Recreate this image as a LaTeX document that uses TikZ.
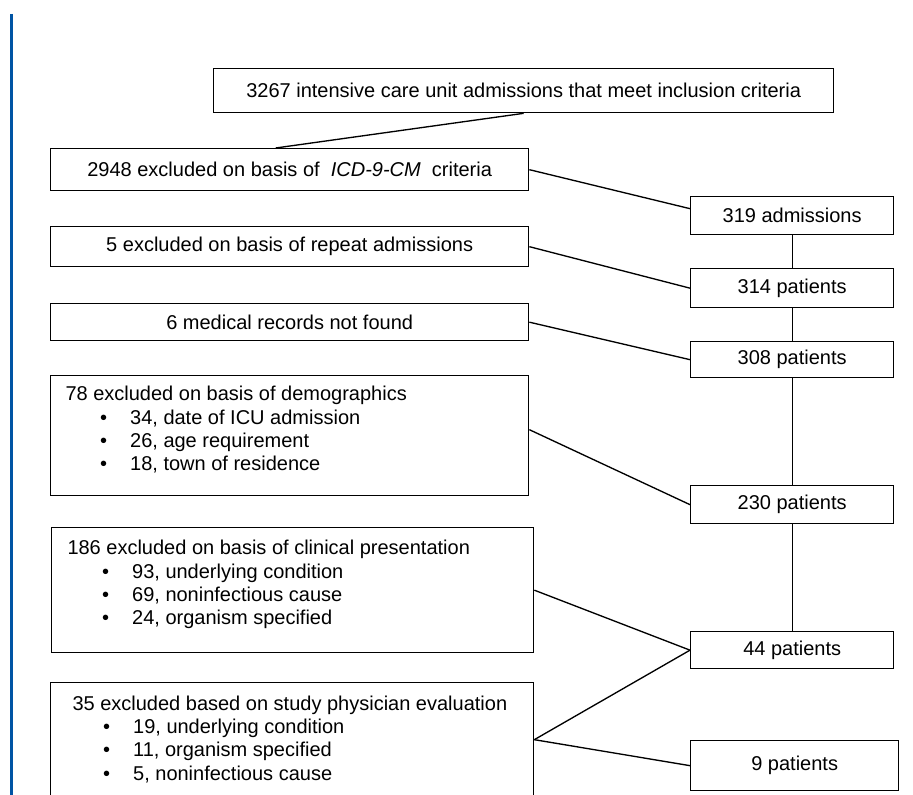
\documentclass[tikz,border=0pt]{standalone}
\usepackage{fontspec}
\setmainfont{Liberation Sans}
\usetikzlibrary{calc}

\tikzset{every picture/.style={line width=0.75pt}}
\tikzset{
  flowbox/.style={draw, line width=1pt, inner sep=0.75pt, anchor=north west, align=center, font=\fontsize{15}{17.5}\selectfont},
  listtext/.style={inner sep=0.75pt, anchor=north west, align=left, font=\fontsize{15}{17.5}\selectfont},
  link/.style={line width=1pt},
  sidebar/.style={line width=2.25pt, color=barblue}
}
\definecolor{barblue}{RGB}{0,84,164}
\newcommand{\bitem}[1]{\hspace*{26pt}\makebox[22.5pt][l]{\textbullet}#1}

\begin{document}
\begin{tikzpicture}[x=0.75pt,y=0.75pt,yscale=-1,xscale=1]
\useasboundingbox (0,0) rectangle (913,795);
\clip (0,0) rectangle (913,795);

%Straight Lines: side bar
\draw [sidebar] (11.5,14) -- (11.5,800);

% Shapes: left column
\node [flowbox, minimum width=465pt, minimum height=33pt] (icu) at (213,68) {3267 intensive care unit admissions that meet inclusion criteria};
\node [flowbox, minimum width=358.5pt, minimum height=31.5pt] (icd) at (50,148) {2948 excluded on basis of \ \textit{ICD-9-CM}\ \ criteria};
\node [flowbox, minimum width=358.5pt, minimum height=30pt] (repeat) at (50,226) {5 excluded on basis of repeat admissions};
\node [flowbox, minimum width=358.5pt, minimum height=27.75pt] (records) at (50,303) {6 medical records not found};
\node [flowbox, minimum width=358.5pt, minimum height=90pt] (demo) at (50,375) {};
\node [flowbox, minimum width=361.5pt, minimum height=93.75pt] (clin) at (51,527) {};
\node [flowbox, minimum width=362.25pt, minimum height=85.5pt] (phys) at (50,682) {};

% Text Node: lists
\node [listtext] (demotxt) at ($(demo.north west)+(14,10)$) {78 excluded on basis of demographics\\
\bitem{34, date of ICU admission}\\
\bitem{26, age requirement}\\
\bitem{18, town of residence}};
\node [listtext] (clintxt) at ($(clin.north west)+(15,12)$) {186 excluded on basis of clinical presentation\\
\bitem{93, underlying condition}\\
\bitem{69, noninfectious cause}\\
\bitem{24, organism specified}};
\node [listtext] (phystxt) at ($(phys.north west)+(21,12)$) {35 excluded based on study physician evaluation\\
\hspace*{-3pt}\bitem{19, underlying condition}\\
\hspace*{-3pt}\bitem{11, organism specified}\\
\hspace*{-3pt}\bitem{5, noninfectious cause}};

% Shapes: right column
\node [flowbox, minimum width=152.25pt, minimum height=28.5pt] (adm) at (690,196) {319 admissions};
\node [flowbox, minimum width=152.25pt, minimum height=29.25pt] (p314) at (690,268) {314 patients};
\node [flowbox, minimum width=152.25pt, minimum height=27pt] (p308) at (690,341) {308 patients};
\node [flowbox, minimum width=152.25pt, minimum height=28.5pt] (p230) at (690,485) {230 patients};
\node [flowbox, minimum width=152.25pt, minimum height=27.75pt] (p44) at (690,631) {44 patients};
\node [flowbox, minimum width=156pt, minimum height=37.5pt] (p9) at (690,740) {9 patients};

%Straight Lines
\draw [link] (icu.south) -- ($(icd.north)+(-14,0)$);
\draw [link] (icd.east) -- ($(adm.west)+(0,-7)$);
\draw [link] (repeat.east) -- (p314.west);
\draw [link] (records.east) -- (p308.west);
\draw [link] ($(demo.east)+(0,-6)$) -- (p230.west);
\draw [link] (clin.east) -- (p44.west);
\draw [link] (phys.east) -- (p44.west);
\draw [link] (phys.east) -- (p9.west);

%Straight Lines: main column
\draw [link] (adm.south) -- (p314.north);
\draw [link] (p314.south) -- (p308.north);
\draw [link] (p308.south) -- (p230.north);
\draw [link] (p230.south) -- (p44.north);

\end{tikzpicture}
\end{document}
